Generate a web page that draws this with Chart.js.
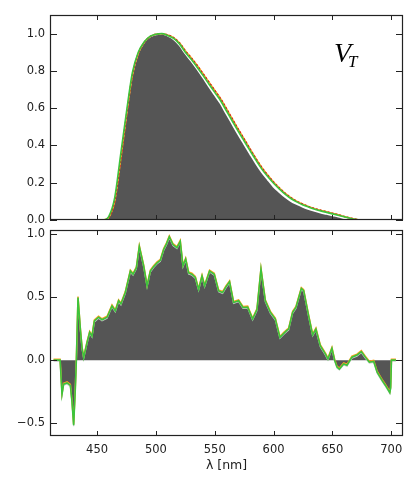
<!DOCTYPE html>
<html><head><meta charset="utf-8">
<script src="https://cdn.jsdelivr.net/npm/chart.js@4/dist/chart.umd.min.js"></script>
<style>
html,body{margin:0;padding:0;background:#fff;}
#wrap{position:relative;width:415px;height:485px;overflow:hidden;}
#c1{position:absolute;left:0;top:0;width:415px;height:230px;}
#c2{position:absolute;left:0;top:220px;width:415px;height:265px;}
</style></head><body>
<div id="wrap">
<canvas id="c1" width="415" height="230"></canvas>
<canvas id="c2" width="415" height="265"></canvas>
</div>
<script>
// ---------- data ----------
const xTicks = [450, 500, 550, 600, 650, 700];
const yTicksTop = [0, 0.2, 0.4, 0.6, 0.8, 1.0];
const yTicksBottom = [-0.5, 0, 0.5, 1.0];

// top panel: wavelength grid (nm)
const wlTop = [413,455,460,465,470,475,480,485,490,495,500,505,510,515,520,525,530,535,540,545,550,555,560,565,570,575,580,585,590,595,600,605,610,615,620,625,630,635,640,645,650,655,660,665,670,675,703];
// measured filter (grey area)
const filterTop = [0,0,0.02,0.12,0.35,0.58,0.79,0.90,0.955,0.985,0.997,1.0,0.99,0.972,0.94,0.895,0.855,0.812,0.766,0.718,0.672,0.626,0.570,0.515,0.460,0.408,0.356,0.305,0.258,0.218,0.180,0.150,0.123,0.101,0.085,0.071,0.059,0.049,0.040,0.033,0.026,0.019,0.011,0.004,0,0,0];
// fit 1 (green)
const fitGreen = [0,0,0.02,0.12,0.35,0.58,0.79,0.90,0.955,0.985,0.997,1.0,0.99,0.975,0.945,0.90,0.862,0.82,0.776,0.73,0.685,0.64,0.585,0.53,0.476,0.424,0.372,0.321,0.273,0.233,0.197,0.166,0.138,0.114,0.096,0.081,0.069,0.058,0.049,0.041,0.033,0.025,0.017,0.009,0.002,0,0];
// fit 2 (red / orange)
const fitRed = [0,0,0.015,0.10,0.32,0.56,0.775,0.893,0.952,0.984,0.997,1.0,0.993,0.979,0.951,0.908,0.871,0.830,0.786,0.741,0.696,0.651,0.597,0.542,0.487,0.435,0.382,0.330,0.282,0.241,0.204,0.172,0.143,0.119,0.100,0.085,0.072,0.061,0.052,0.044,0.036,0.028,0.019,0.011,0.004,0,0];

// bottom panel
const wlBottom = [413,418.6,420.2,421.6,424.5,427.3,428.7,430.1,431.5,432.4,433.8,435.8,437.2,438.6,441.5,443.7,445.7,447.7,451.3,454.2,458.5,462.7,465.5,468.3,470.3,474,478.3,480.6,483.4,485.9,489.6,492.5,495.3,498,501,503.8,506.6,509,511.4,514.5,517.9,520.7,523,525.3,527.8,530.6,533.5,536.3,539.2,541.4,545.6,549.6,553.3,556.7,559.5,562.6,566,570.3,574,578,582.2,585.9,589.3,593,597.2,601.5,605.4,608.5,611.3,612.8,616.2,619,623.6,625.6,629.8,633.2,636,639.7,644,646.2,649.6,651.9,653.9,655.9,659.6,662.4,666.6,670.9,674.6,678,681.4,685.1,688,692.2,695.1,698.8,699.5,700.2,704];
const diffBottom = [0,0,-0.27,-0.19,-0.18,-0.20,-0.33,-0.515,-0.23,0,0.496,0.246,0.10,0.02,0.14,0.22,0.19,0.31,0.34,0.32,0.34,0.43,0.39,0.47,0.445,0.535,0.705,0.68,0.73,0.90,0.745,0.587,0.705,0.74,0.77,0.79,0.876,0.92,0.976,0.915,0.89,0.94,0.745,0.80,0.69,0.68,0.655,0.56,0.666,0.587,0.705,0.68,0.548,0.535,0.58,0.62,0.457,0.47,0.417,0.42,0.325,0.40,0.72,0.47,0.38,0.325,0.18,0.21,0.235,0.246,0.378,0.417,0.567,0.55,0.35,0.20,0.246,0.115,0.05,0.01,0.094,0,-0.055,-0.07,-0.03,-0.04,0.024,0.04,0.068,0.024,-0.016,-0.01,-0.095,-0.16,-0.20,-0.257,-0.22,0,0];

// ---------- styling ----------
const GREEN = '#3cc43c', RED = '#d42020', ORANGE = '#ffa020', GREY = '#555555';
const FONT = {family: '"DejaVu Sans", sans-serif', size: 11.5};
const TXT = '#222';

const pts = (xs, ys) => xs.map((x, i) => ({x, y: ys[i]}));

const framePlugin = {
  id: 'frame',
  beforeDatasetDraw(chart, args) {
    const ds = chart.data.datasets[args.index];
    if (ds.shiftY) { chart.ctx.save(); chart.ctx.translate(0, ds.shiftY); }
  },
  afterDatasetDraw(chart, args) {
    const ds = chart.data.datasets[args.index];
    if (ds.shiftY) chart.ctx.restore();
  },
  afterDatasetsDraw(chart) {
    const {ctx, chartArea: a, scales} = chart;
    ctx.save();
    ctx.strokeStyle = '#222';
    ctx.lineWidth = 1;
    ctx.beginPath();
    scales.x.ticks.forEach(t => {
      const px = Math.round(scales.x.getPixelForValue(t.value)) + 0.5;
      ctx.moveTo(px, a.bottom); ctx.lineTo(px, a.bottom - 5);
      ctx.moveTo(px, a.top); ctx.lineTo(px, a.top + 5);
    });
    scales.y.ticks.forEach(t => {
      const py = Math.round(scales.y.getPixelForValue(t.value)) + 0.5;
      ctx.moveTo(a.left, py); ctx.lineTo(a.left + 7, py);
      ctx.moveTo(a.right, py); ctx.lineTo(a.right - 7, py);
    });
    ctx.stroke();
    ctx.lineWidth = 1.2;
    ctx.strokeRect(a.left + 0.5, a.top + 0.5, a.right - a.left - 1, a.bottom - a.top - 1);
    ctx.restore();
  }
};

function xScale(bottomH, withLabels) {
  return {
    type: 'linear', min: 410, max: 710,
    afterBuildTicks: s => { s.ticks = xTicks.map(v => ({value: v})); },
    afterFit: s => { s.height = bottomH; s.paddingLeft = 0; s.paddingRight = 0; },
    grid: {display: false, drawTicks: false},
    border: {display: false},
    ticks: {display: withLabels, font: FONT, color: TXT, padding: 7, maxRotation: 0},
    title: withLabels ? {display: true, text: 'λ [nm]', font: {family: '"DejaVu Sans", sans-serif', size: 12.5}, color: TXT, padding: {top: 0, bottom: 12}} : {display: false}
  };
}
function yScale(min, max, tickVals) {
  return {
    type: 'linear', min, max,
    afterBuildTicks: s => { s.ticks = tickVals.map(v => ({value: v})); },
    afterFit: s => { s.width = 50; s.paddingTop = 0; s.paddingBottom = 0; },
    grid: {display: false, drawTicks: false},
    border: {display: false},
    ticks: {font: FONT, color: TXT, padding: 5,
      callback: v => (v < 0 ? '\u2212' : '') + Math.abs(v).toFixed(1)}
  };
}

const labelPlugin = {
  id: 'vtlabel',
  afterDraw(chart) {
    const ctx = chart.ctx;
    ctx.save();
    ctx.fillStyle = '#000';
    ctx.textBaseline = 'alphabetic';
    ctx.font = 'italic 28px "Liberation Serif", serif';
    ctx.fillText('V', 334, 62);
    ctx.font = 'italic 17px "Liberation Serif", serif';
    ctx.fillText('T', 348, 67);
    ctx.restore();
  }
};

new Chart(document.getElementById('c1'), {
  type: 'line',
  data: {
    datasets: [
      {data: pts(wlTop, fitGreen), borderColor: GREEN, borderWidth: 1.6, pointRadius: 0, fill: false, order: 0, cubicInterpolationMode: 'monotone'},
      {data: pts(wlTop, fitRed), borderColor: RED, borderWidth: 1.5, borderDash: [2, 2], pointRadius: 0, fill: false, order: 1, cubicInterpolationMode: 'monotone'},
      {data: pts(wlTop, fitRed), borderColor: ORANGE, borderWidth: 1.5, pointRadius: 0, fill: false, order: 2, cubicInterpolationMode: 'monotone'},
      {data: pts(wlTop, filterTop), borderColor: '#ffffff', borderWidth: 2, backgroundColor: GREY, pointRadius: 0, fill: 'origin', order: 3, cubicInterpolationMode: 'monotone'}
    ]
  },
  options: {
    responsive: false, animation: false,
    layout: {padding: {top: 15, right: 12, left: 0, bottom: 0}},
    plugins: {legend: {display: false}, tooltip: {enabled: false}},
    scales: {x: xScale(10, false), y: yScale(0, 1.1, yTicksTop)}
  },
  plugins: [framePlugin, labelPlugin]
});

new Chart(document.getElementById('c2'), {
  type: 'line',
  data: {
    datasets: [
      {data: pts(wlBottom, diffBottom), borderColor: GREEN, borderWidth: 1.6, pointRadius: 0, fill: false, order: 0, tension: 0},
      {data: pts(wlBottom, diffBottom), borderColor: ORANGE, borderWidth: 1.5, pointRadius: 0, fill: false, order: 1, tension: 0, shiftY: -1},
      {data: pts(wlBottom, diffBottom), borderColor: '#c8c8c8', borderWidth: 1.2, backgroundColor: GREY, pointRadius: 0, fill: 'origin', order: 2, tension: 0, shiftY: 1}
    ]
  },
  options: {
    responsive: false, animation: false,
    layout: {padding: {top: 10, right: 12, left: 0, bottom: 0}},
    plugins: {legend: {display: false}, tooltip: {enabled: false}},
    scales: {x: xScale(49, true), y: yScale(-0.6, 1.03, yTicksBottom)}
  },
  plugins: [framePlugin]
});
</script>
</body></html>
